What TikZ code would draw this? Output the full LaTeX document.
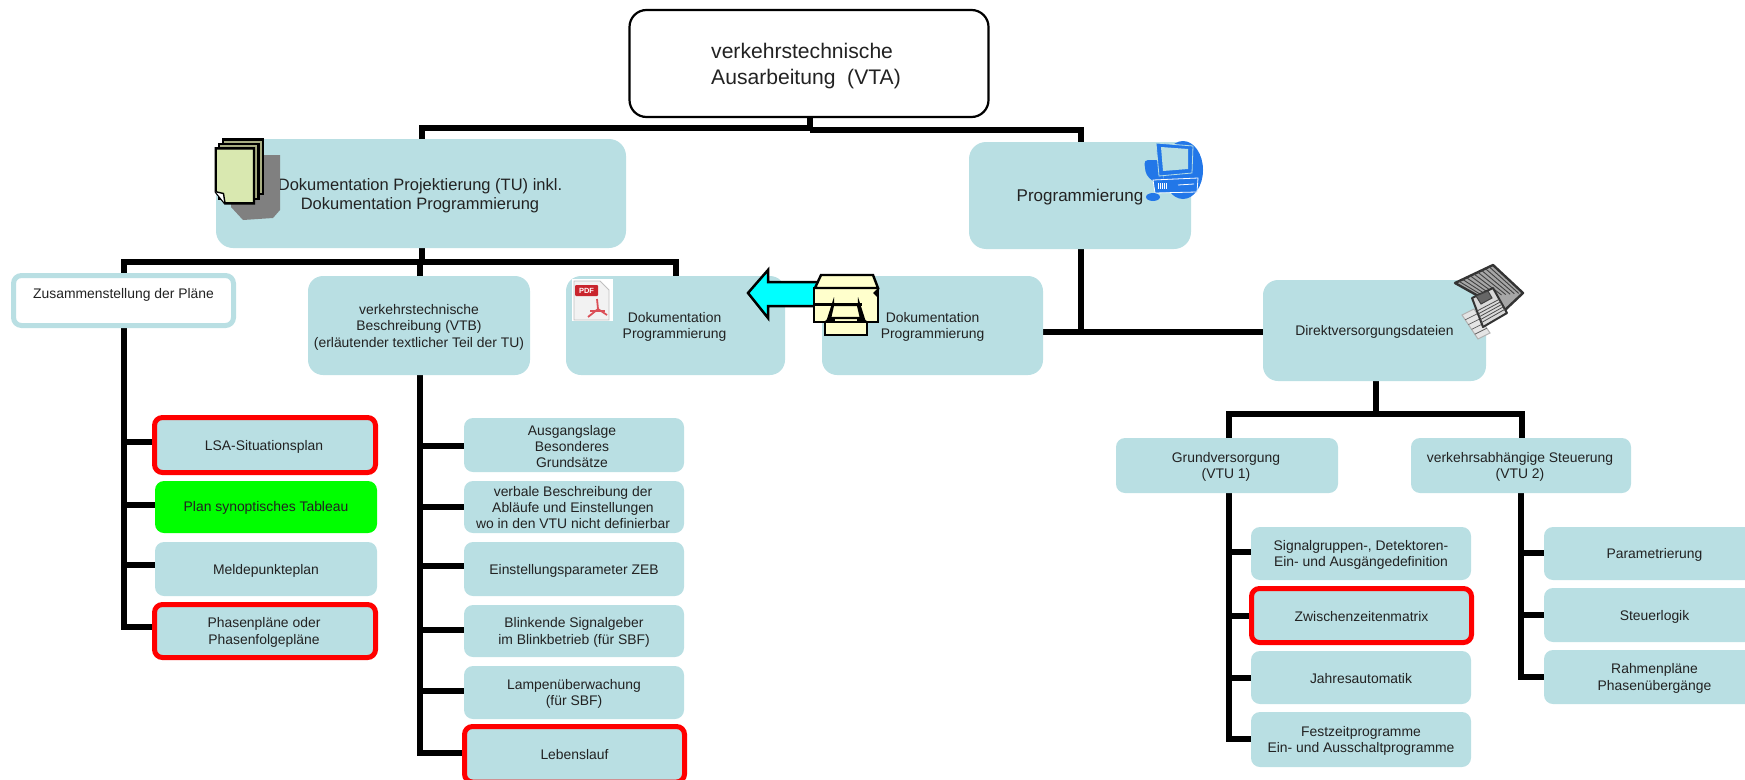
\documentclass[tikz,border=0pt]{standalone}
\usepackage{fontspec}
\setmainfont{Liberation Sans}
\usetikzlibrary{backgrounds,calc}
\definecolor{boxblue}{HTML}{B9DFE3}
\definecolor{txt}{HTML}{222222}
\definecolor{arrowcyan}{HTML}{00FFFF}
\definecolor{pureRed}{HTML}{FF0000}
\definecolor{pureGreen}{HTML}{00FF00}
\definecolor{printerY}{HTML}{FFFFCC}
\definecolor{pageFront}{HTML}{D9E8B0}
\definecolor{pageBack}{HTML}{A8AE82}
\definecolor{pcblue}{HTML}{2277E8}
\definecolor{pdfred}{HTML}{C9252D}
\definecolor{pdfsym}{HTML}{DB5058}
\tikzset{
  x=1pt,y=-1pt,
  conn/.style={line width=6.5pt,black,line join=miter},
  boxbase/.style={inner sep=0pt,outer sep=0pt,rectangle},
  lblS/.style={font=\fontsize{13.9}{16.4}\selectfont,align=center,text=txt,inner sep=0pt},
  lblM/.style={font=\fontsize{16.5}{19}\selectfont,align=center,text=txt,inner sep=0pt},
  lblP/.style={font=\fontsize{17}{19}\selectfont,align=center,text=txt,inner sep=0pt},
  lblL/.style={font=\fontsize{21.1}{26}\selectfont,align=left,text=txt,inner sep=0pt},
  bluebig/.style={boxbase,fill=boxblue,rounded corners=17pt},
  bluemid/.style={boxbase,fill=boxblue,rounded corners=15pt},
  bluesmall/.style={boxbase,fill=boxblue,rounded corners=9pt},
  redbox/.style={boxbase,fill=boxblue,draw=pureRed,line width=5pt,rounded corners=8pt},
  greenbox/.style={boxbase,fill=pureGreen,rounded corners=9pt},
  whitebox/.style={boxbase,fill=white,draw=boxblue,line width=5pt,rounded corners=8pt},
  topbox/.style={boxbase,fill=white,draw=black,line width=2.2pt,rounded corners=17pt},
  iconline/.style={draw=black,line width=2.4pt,line join=miter},
}
% name, label style, box style, x1, y1, x2, then y2, dx, dy, text
\newcommand{\bx}[6]{\def\bxN{#1}\def\bxL{#2}\def\bxS{#3}\def\bxA{#4}\def\bxB{#5}\def\bxC{#6}\bxrest}
\newcommand{\bxrest}[4]{%
  \node[\bxS,minimum width={(\bxC-\bxA)*1pt},minimum height={(#1-\bxB)*1pt},
    label={[\bxL,name=\bxN-t,shift={({#2},{#3+1.5})}]center:{#4}}] (\bxN) at ({(\bxA+\bxC)/2},{(\bxB+#1)/2}) {};}
% branch from a trunk point to the west side of a node
\newcommand{\br}[4]{\coordinate (#1) at (#2,#3); \draw[conn] (#1) -- (#1 -| #4.west);}
\begin{document}
\begin{tikzpicture}
\useasboundingbox (0,0) rectangle (1745,779);
\clip (0,0) rectangle (1745,779);

\bx{top}{lblL}{topbox}{629.5}{10}{988.5}{117}{-3}{1.5}{verkehrstechnische\\Ausarbeitung\ \ (VTA)}
\bx{tu}{lblM}{bluebig}{216}{139}{626}{248}{-1}{1}{Dokumentation Projektierung (TU) inkl.\\Dokumentation Programmierung}
\bx{prog}{lblP}{bluebig}{969}{142}{1191}{249}{0}{0}{Programmierung}
\bx{zus}{lblS}{whitebox}{13.5}{275.5}{233.5}{325.5}{0}{-7}{Zusammenstellung der Pläne}
\bx{vtb}{lblS}{bluemid}{308}{276}{530}{375}{0}{0}{verkehrstechnische\\Beschreibung (VTB)\\(erläutender textlicher Teil der TU)}
\bx{dokA}{lblS}{bluemid}{566}{276}{785}{375}{-1}{0}{Dokumentation\\Programmierung}
\bx{dokB}{lblS}{bluemid}{822}{276}{1043}{375}{0}{0}{Dokumentation\\Programmierung}
\bx{dir}{lblS}{bluemid}{1263}{280}{1486}{381}{0}{0}{Direktversorgungsdateien}

\bx{lsa}{lblS}{redbox}{154.5}{417.5}{375.5}{472.5}{-1}{0}{LSA-Situationsplan}
\bx{plan}{lblS}{greenbox}{155}{481}{377}{533}{0}{-1}{Plan synoptisches Tableau}
\bx{meld}{lblS}{bluesmall}{155}{542}{377}{596}{0}{0}{Meldepunkteplan}
\bx{phas}{lblS}{redbox}{154.5}{604.5}{375.5}{657.5}{-1}{0}{Phasenpläne oder\\Phasenfolgepläne}

\bx{ausg}{lblS}{bluesmall}{464}{418}{684}{472}{-2}{0}{Ausgangslage\\Besonderes\\Grundsätze}
\bx{verb}{lblS}{bluesmall}{464}{481}{684}{533}{-1}{-1}{verbale Beschreibung der\\Abläufe und Einstellungen\\wo in den VTU nicht definierbar}
\bx{einst}{lblS}{bluesmall}{464}{542}{684}{596}{0}{0}{Einstellungsparameter ZEB}
\bx{blink}{lblS}{bluesmall}{464}{605}{684}{657}{0}{0}{Blinkende Signalgeber\\im Blinkbetrieb (für SBF)}
\bx{lamp}{lblS}{bluesmall}{464}{666}{684}{719}{0}{0}{Lampenüberwachung\\(für SBF)}
\bx{leb}{lblS}{redbox}{464.5}{726.5}{684.5}{782}{0}{-1}{Lebenslauf}

\bx{grund}{lblS}{bluesmall}{1116}{438}{1338}{493}{-1}{0}{Grundversorgung\\(VTU 1)}
\bx{vtub}{lblS}{bluesmall}{1411}{438}{1631}{493}{-1}{0}{verkehrsabhängige Steuerung\\(VTU 2)}
\bx{sig}{lblS}{bluesmall}{1251}{527}{1471}{580}{0}{0}{Signalgruppen-, Detektoren-\\Ein- und Ausgängedefinition}
\bx{zwi}{lblS}{redbox}{1251.5}{588.5}{1471.5}{642.5}{0}{0}{Zwischenzeitenmatrix}
\bx{jahr}{lblS}{bluesmall}{1251}{651}{1471}{704}{0}{0}{Jahresautomatik}
\bx{fest}{lblS}{bluesmall}{1251}{712}{1471}{767}{0}{0}{Festzeitprogramme\\Ein- und Ausschaltprogramme}
\bx{para}{lblS}{bluesmall}{1544}{527}{1765}{580}{0}{0}{Parametrierung}
\bx{steu}{lblS}{bluesmall}{1544}{588}{1765}{642}{0}{0}{Steuerlogik}
\bx{rahm}{lblS}{bluesmall}{1544}{650}{1765}{704}{0}{0}{Rahmenpläne\\Phasenübergänge}

\begin{scope}[on background layer]
  \coordinate (tj) at (810,128);
  \coordinate (tl) at (422,128);
  \coordinate (tr) at (1081,130);
  \draw[conn] (top.south -| tj) -- (tj);
  \draw[conn] (tu.north -| tl) -- (tl) -- (tj |- tl);
  \draw[conn] (prog.north -| tr) -- (tr) -- (tj |- tr);
  \coordinate (ul) at (124,262);
  \coordinate (um) at (420,262);
  \coordinate (ur) at (676,262);
  \draw[conn] (tu.south -| tl) -- (tl |- ul);
  \draw[conn] (dokA.north -| ur) -- (ur) -- (ul) -- (ul |- zus.north);
  \draw[conn] (um) -- (vtb.north -| um);
  \coordinate (lb) at (124,630);
  \draw[conn] (zus.south -| ul) -- (lb);
  \br{la}{121}{442}{lsa}
  \br{lc}{121}{505}{plan}
  \br{ld}{121}{565}{meld}
  \br{le}{121}{627}{phas}
  \coordinate (vb) at (420,756);
  \draw[conn] (vtb.south -| vb) -- (vb);
  \br{va}{417}{446}{ausg}
  \br{vc}{417}{507}{verb}
  \br{vd}{417}{566}{einst}
  \br{ve}{417}{630}{blink}
  \br{vf}{417}{691}{lamp}
  \br{vg}{417}{753}{leb}
  \coordinate (pj) at (1081,332);
  \draw[conn] (prog.south -| pj) -- (pj);
  \draw[conn] (dokB.east |- pj) -- (dir.west |- pj);
  \coordinate (dj) at (1376,414);
  \coordinate (dl) at (1229,414);
  \coordinate (dr) at (1522,414);
  \draw[conn] (dir.south -| dj) -- (dj);
  \draw[conn] (grund.north -| dl) -- (dl) -- (dr) -- (vtub.north -| dr);
  \coordinate (gb) at (1229,742);
  \draw[conn] (grund.south -| gb) -- (gb);
  \br{ga}{1226}{552}{sig}
  \br{gc}{1226}{616}{zwi}
  \br{gd}{1226}{678}{jahr}
  \br{ge}{1226}{739}{fest}
  \coordinate (sb) at (1521,680);
  \draw[conn] (vtub.south -| sb) -- (sb);
  \br{sa}{1518}{553}{para}
  \br{sc}{1518}{615}{steu}
  \br{sd}{1518}{677}{rahm}
\end{scope}

% ---- document stack icon
\fill[black!50] (231,190) -- (231,207) -- (243,220) -- (273,218) -- (280,210) -- (280,155) -- (254,155) -- cycle;
\filldraw[iconline,fill=pageBack] (223,139.3) -- (263,139.3) -- (263,194) -- (223,194) -- cycle;
\filldraw[iconline,fill=pageBack] (219,144) -- (258.5,144) -- (258.5,199) -- (219,199) -- cycle;
\filldraw[iconline,fill=pageFront] (215.7,148.3) -- (254,148.3) -- (254,203.3) -- (225,203.3) -- (215.7,191.7) -- cycle;
\draw[iconline,line width=1.4pt,fill=white] (215.7,191.7) -- (223.5,193.5) -- (225,203.3);

% ---- pdf icon
\fill[white] (572,279) rectangle (613,321);
\filldraw[draw=black!25,fill=black!5,line width=.8pt] (574,281) -- (600,281) -- (609,290) -- (609,320) -- (574,320) -- cycle;
\fill[pdfred,rounded corners=1pt] (575,285) rectangle (598,296);
\node[inner sep=0pt,text=white,font=\fontsize{7.5}{8}\selectfont\bfseries] (pdflabel) at (586.5,290.5) {PDF};
\draw[pdfsym,line width=1.8pt,line join=round] (597,299) -- (598,309) -- (588,317);
\draw[pdfsym,line width=1.8pt] (598,309) -- (607,315);
\draw[pdfsym,line width=1.5pt] (590,311) -- (605,311);

% ---- arrow
\filldraw[draw=black,line width=2.5pt,fill=arrowcyan,line join=miter] (748,293) -- (768,270) -- (768,282) -- (820,282) -- (820,306) -- (768,306) -- (768,318) -- cycle;

% ---- printer
\begin{scope}[line join=miter]
\filldraw[iconline,fill=printerY] (814,288) rectangle (878,322);
\filldraw[iconline,fill=printerY] (821,275) -- (873,275) -- (878,288) -- (815,288) -- cycle;
\fill[black] (873,293) -- (878,288) -- (878,298) -- cycle;
\draw[iconline] (814,304.3) -- (862,304.3);
\fill[black] (834,297) -- (835,322) -- (826,322) -- cycle;
\fill[black] (858,297) -- (866,322) -- (857,322) -- cycle;
\filldraw[iconline,fill=printerY] (833,305) -- (858,305) -- (861,318) -- (830,318) -- cycle;
\filldraw[iconline,fill=printerY] (825,322) -- (867,322) -- (867,335) -- (825,335) -- cycle;
\draw[iconline,line width=1.5pt] (830,318) -- (825,322) (861,318) -- (867,322);
\end{scope}

% ---- computer icon
\fill[pcblue] (1183,170) ellipse [x radius=20,y radius=29];
\fill[pcblue,rounded corners=4pt] (1144,160) -- (1160,160) -- (1165,185) -- (1155,183) -- (1146,175) -- cycle;
\filldraw[draw=boxblue,line width=.8pt,fill=pcblue] (1156,143) -- (1193,146) -- (1192,173) -- (1159,176) -- cycle;
\fill[boxblue] (1161,147) -- (1188,149) -- (1188,169) -- (1163,171) -- cycle;
\filldraw[draw=white,line width=.8pt,fill=pcblue] (1153,180) -- (1198,178) -- (1197,192) -- (1155,193) -- cycle;
\foreach \xx in {1158,1160,1162,1164,1166}{\draw[white,line width=.6pt] (\xx,183) -- (\xx,189);}
\draw[white,line width=.8pt] (1178,185) -- (1194,184);
\draw[boxblue,line width=.8pt] (1153,197) -- (1149,190) -- (1153,187);
\fill[pcblue] (1153,197) ellipse [x radius=7,y radius=4];

% ---- floppy icon
\coordinate (fa) at (1455,283);
\coordinate (fb) at (1493,265);
\coordinate (fc) at (1523,293);
\coordinate (fd) at (1505,310);
\coordinate (fe) at (1480,297);
\filldraw[draw=black!80,line width=2.4pt,fill=black!35,line join=round] (fa) -- (fb) -- (fc) -- (fd) -- (fe) -- cycle;
\foreach \t in {0.1,0.2,...,0.95}{
  \draw[black!75,line width=.9pt] ($(fa)!\t!(fb)$) -- ($(fe)!\t!(fc)$);
}
\filldraw[draw=black!30,fill=black!10,line width=1pt] (1462,315) -- (1474,309) -- (1490,333) -- (1478,339) -- cycle;
\foreach \t in {0.2,0.4,0.6,0.8}{\draw[black!65,line width=.7pt] ($(1462,315)!\t!(1478,339)$) -- ($(1474,309)!\t!(1490,333)$);}
\filldraw[draw=black!80,line width=2pt,fill=black!15,line join=round] (1472,298) -- (1493,288) -- (1507,313) -- (1483,327) -- cycle;
\filldraw[draw=black!75,line width=1pt,fill=black!60] (1476,296) -- (1488,291) -- (1492,298) -- (1481,304) -- cycle;
\foreach \t in {0.45,0.55,0.65,0.75,0.85}{\draw[black!70,line width=.8pt] ($(1472,298)!\t!(1483,327)$) -- ($(1493,288)!\t!(1507,313)$);}
\end{tikzpicture}
\end{document}
